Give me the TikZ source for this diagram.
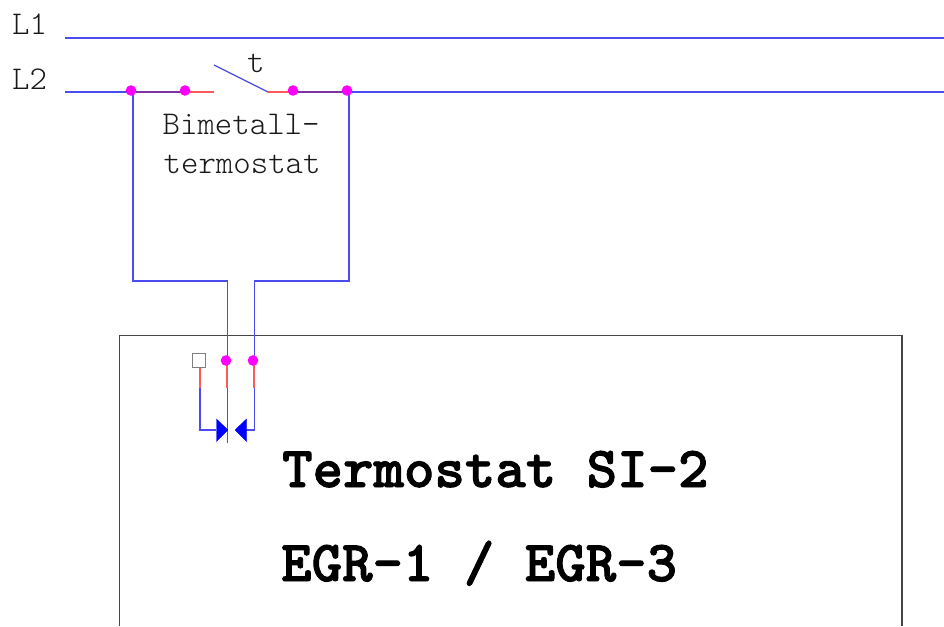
\documentclass[tikz,border=0pt]{standalone}
\usepackage{fontspec}
\newfontfamily\heavymono[FakeBold=1.6]{lmmonolt10-bold.otf}
\newfontfamily\lightmono{lmmonolt10-regular.otf}
\definecolor{wire}{RGB}{75,75,240}
\definecolor{stub}{RGB}{250,90,90}
\definecolor{joined}{RGB}{125,50,160}
\definecolor{dotc}{RGB}{255,0,255}
\definecolor{frame}{RGB}{70,70,70}
\tikzset{
  wireline/.style={draw=wire,line width=1.3pt},
  stubline/.style={draw=stub,line width=1.6pt},
  joinline/.style={draw=joined,line width=1.8pt},
  dotnode/.style={circle,fill=dotc,inner sep=0pt,minimum size=10.6pt},
  termbox/.style={rectangle,draw=gray,fill=white,line width=1.2pt,inner sep=0pt,minimum size=13.5pt},
  tipnode/.style={fill=blue,draw=blue,line width=0.3pt},
  small/.style={inner sep=0pt,anchor=base west,font=\lightmono\fontsize{33.2}{33.2}\selectfont,text=black!90},
  big/.style={inner sep=0pt,anchor=base west,font=\heavymono\fontsize{58}{58}\selectfont}
}
\begin{document}
\begin{tikzpicture}[x=1pt,y=-1pt]
\useasboundingbox (0,0) rectangle (944,626);
% free ends and bends
\coordinate (l1a) at (65,38); \coordinate (l1b) at (944,38);
\coordinate (l2a) at (65,92); \coordinate (l2b) at (944,92);
\coordinate (p1) at (131,92); \coordinate (p2) at (185,92);
\coordinate (sa) at (214,92); \coordinate (st) at (214,65); \coordinate (sb) at (268,92);
\coordinate (p3) at (293,92); \coordinate (p4) at (347,92);
% frame
\coordinate (fa) at (119.5,626); \coordinate (fb) at (119.5,335.5);
\coordinate (fc) at (902,335.5); \coordinate (fd) at (902,626);
\draw[frame,line width=1.1pt] (fa) -- (fb) -- (fc) -- (fd);
% bus lines
\draw[wireline] (l1a) -- (l1b);
\draw[wireline] (l2a) -- (p1);
\draw[wireline] (p4) -- (l2b);
% switch
\draw[joinline] (p1) -- (p2);
\draw[stubline] (p2) -- (sa);
\draw[wireline] (st) -- (sb);
\draw[stubline] (sb) -- (p3);
\draw[joinline] (p3) -- (p4);
% connectors to the box
\coordinate (w1) at (133,92); \coordinate (w2) at (133,281);
\coordinate (w3) at (227.2,281); \coordinate (w4) at (227.2,443);
\coordinate (x1) at (349,92); \coordinate (x2) at (349,281);
\coordinate (x3) at (254.2,281); \coordinate (x4) at (254.2,430); \coordinate (x5) at (246,430);
\coordinate (r0) at (200,388); \coordinate (r0b) at (200,430); \coordinate (r0c) at (216,430);
\coordinate (r1a) at (227.2,364); \coordinate (r1) at (227.2,388);
\coordinate (r2a) at (254.2,364); \coordinate (r2) at (254.2,388);
\draw[wireline] (w1) -- (w2) -- (w3) -- (w4);
\draw[wireline] (x1) -- (x2) -- (x3) -- (x4) -- (x5);
\draw[stubline] (200,367) -- (r0);
\draw[wireline] (r0) -- (r0b) -- (r0c);
\draw[stubline] (r1a) -- (r1);
\draw[stubline] (r2a) -- (r2);
\node[dotnode] (d1) at (131,90.5) {};
\node[dotnode] (d2) at (185,90.5) {};
\node[dotnode] (d3) at (293,90.5) {};
\node[dotnode] (d4) at (347,90.5) {};
\node[termbox] (t0) at (199,360.5) {};
\node[dotnode] (t1) at (226,360.5) {};
\node[dotnode] (t2) at (253,360.5) {};
% arrowheads
\fill[tipnode] (216.5,419) -- (228,430) -- (216.5,441.5) -- cycle;
\fill[tipnode] (246.5,419) -- (235,430) -- (246.5,441.5) -- cycle;
% labels
\node[small] (n1) at (12,35) {L1};
\node[small] (n2) at (12,89) {L2};
\node[small] (nt) at (247,73) {t};
\node[small] (nb1) at (162.5,134) {Bimetall-};
\node[small] (nb2) at (163.5,173) {termostat};
\node[big] (nbig1) at (282,487) {Termostat SI-2};
\node[big] (nbig2) at (281,581) {EGR-1 / EGR-3};
\end{tikzpicture}
\end{document}
